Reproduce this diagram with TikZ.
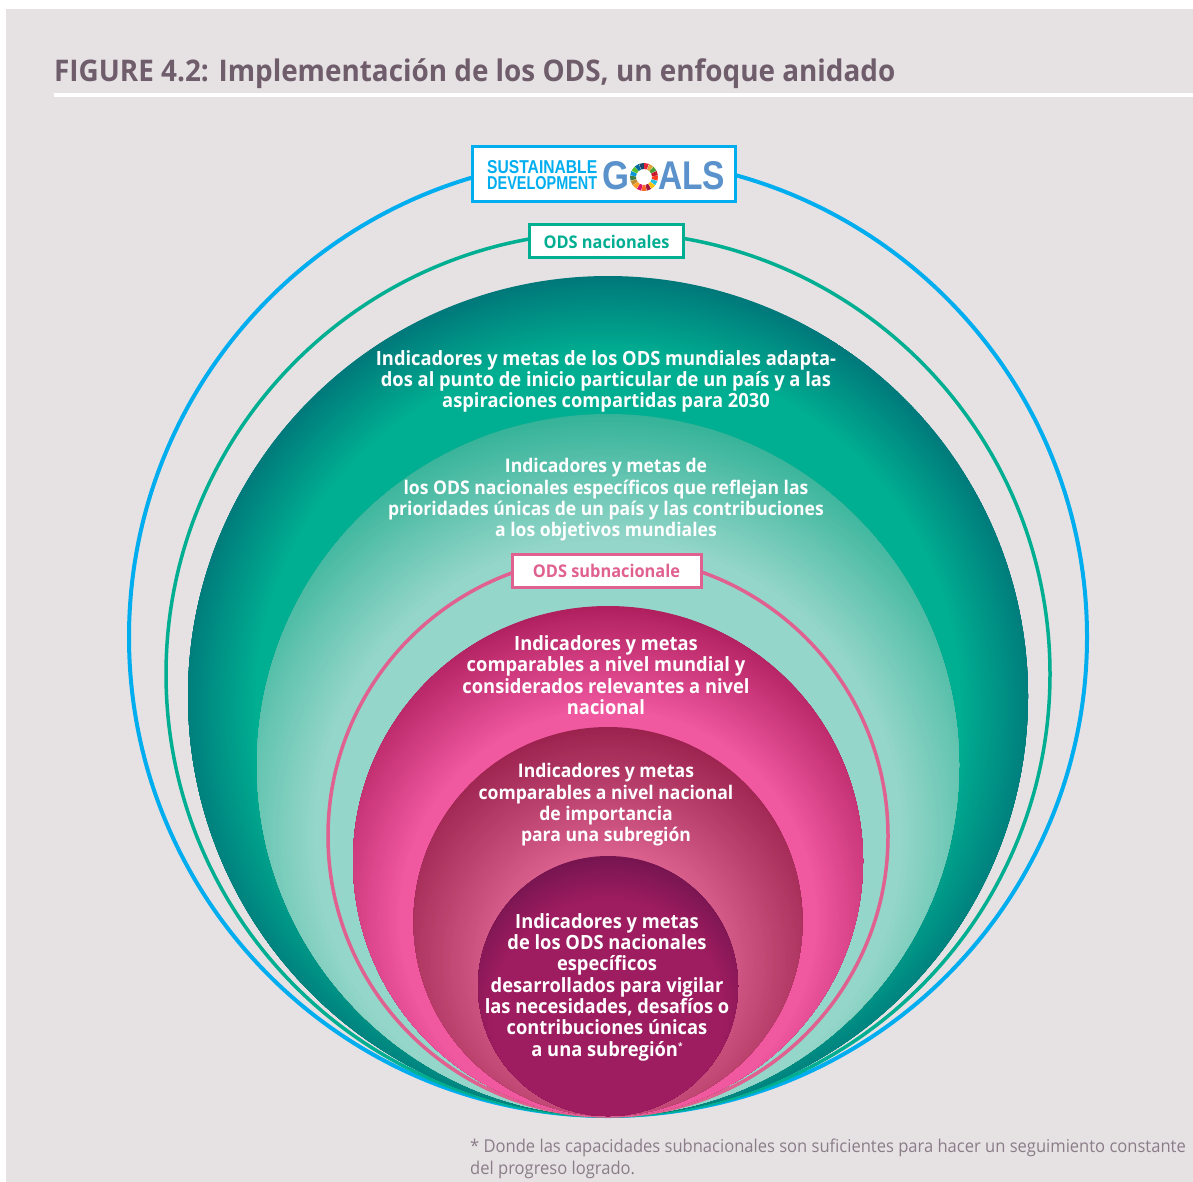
\documentclass[tikz,border=0pt]{standalone}
\usepackage{fontspec}
\usetikzlibrary{calc}
\setmainfont{Open Sans}[FakeStretch=0.935]
\newfontfamily\logofont{Liberation Sans}
\definecolor{pagebg}{HTML}{E6E2E4}
\definecolor{titlecol}{HTML}{6F5D6B}
\definecolor{notecol}{HTML}{8B7D88}
\definecolor{skyblue}{HTML}{00AEEF}
\definecolor{goalblue}{HTML}{5B92CB}
\definecolor{tealc}{HTML}{00AE91}
\definecolor{pinkc}{HTML}{E0608F}
\definecolor{tealedge}{HTML}{00787A}
\definecolor{lightedge}{HTML}{35B399}
\definecolor{lightmid}{HTML}{94D6C9}
\definecolor{pinkedge}{HTML}{B0205F}
\definecolor{pinkmid}{HTML}{F058A0}
\definecolor{midedge}{HTML}{9C234E}
\definecolor{midmid}{HTML}{D95F8C}
\definecolor{inneredge}{HTML}{761550}
\definecolor{innermid}{HTML}{9E1C60}
% centre x, centre y, radius, downward shift of the gradient's centre, radius of its flat core, edge colour, core colour
\newcommand\gradisc[7]{%
  \begin{scope}
    \clip (#1,#2) circle[radius=#3];
    \fill[#6] (#1,#2) circle[radius=#3];
    \foreach \k in {1,...,50}{%
      \pgfmathsetmacro\rr{(#3+#4)-(#3+#4-#5)*\k/50}%
      \pgfmathtruncatemacro\mx{2*\k}%
      \fill[#7!\mx!#6] (#1,#2+#4) circle[radius=\rr];
    }%
  \end{scope}
}
\tikzset{
  x=1pt,y=-1pt,
  disctext/.style={text=white,font=\fontsize{19.6}{21.35}\selectfont\bfseries,align=center,inner sep=0pt},
  disctextsmall/.style={text=white,font=\fontsize{18.8}{21.35}\selectfont\bfseries,align=center,inner sep=0pt},
  tagbox/.style={fill=white,line width=3pt,inner sep=0pt,minimum height=33pt,font=\fontsize{17.5}{20}\selectfont\bfseries},
  logotext/.style={anchor=base west,inner sep=0pt,font=\logofont\bfseries},
}
\begin{document}
\begin{tikzpicture}
\useasboundingbox (0,0) rectangle (1193,1182);
\fill[pagebg] (6,9) rectangle (1193,1182);
\node[anchor=base west,inner sep=0pt,text=titlecol,font=\fontsize{29.8}{34}\selectfont\bfseries] (title) at (54,81.5) {FIGURE 4.2: Implementación de los ODS, un enfoque anidado};
\fill[white] (54,93.5) rectangle (1193,97);
% rings and discs
\draw[skyblue,line width=4pt] (608,637) circle[radius=479];
\draw[tealc,line width=3.5pt] (608,674) circle[radius=442];
\gradisc{608}{696}{420}{10}{353}{tealedge}{tealc}
\gradisc{608}{765}{351}{70}{295}{lightedge}{lightmid}
\draw[pinkc,line width=3.5pt] (608,836) circle[radius=280];
\gradisc{608}{861}{255}{57}{208}{pinkedge}{pinkmid}
\gradisc{608}{921.5}{194.5}{40}{110}{midedge}{midmid}
\gradisc{608}{986}{130}{30}{116}{inneredge}{innermid}
% logo
\node[draw=skyblue,fill=white,line width=3.5pt,minimum width=263pt,minimum height=55pt,inner sep=0pt] (logo) at (604,174) {};
\node[logotext,text=skyblue] (sus) at (487,174) {\resizebox{110pt}{13pt}{SUSTAINABLE}};
\node[logotext,text=skyblue] (dev) at (487,190) {\resizebox{110pt}{13pt}{DEVELOPMENT}};
\node[logotext,text=goalblue] (goalg) at (602,190) {\resizebox{27pt}{28pt}{G}};
\node[logotext,text=goalblue] (goalals) at (658,190) {\resizebox{67pt}{28pt}{ALS}};
\coordinate (wheel) at (644,177);
\foreach \c [count=\i from 0] in {E5243B,DDA63A,4C9F38,C5192D,FF3A21,26BDE2,FCC30B,A21942,FD6925,DD1367,FD9D24,BF8B2E,3F7E44,0A97D9,56C02B,00689D,19486A}{
  \definecolor{wheelc}{HTML}{\c}
  \pgfmathsetmacro\aa{-90+\i*360/17+1}
  \pgfmathsetmacro\ab{-90+(\i+1)*360/17-1}
  \fill[wheelc] ($(wheel)+(\aa:8)$) -- ($(wheel)+(\aa:14)$) -- ($(wheel)+(\ab:14)$) -- ($(wheel)+(\ab:8)$) -- cycle;
}
% tags
\node[tagbox,draw=tealc,text=tealc,minimum width=154pt] (tagnat) at (606.5,241.5) {ODS nacionales};
\node[tagbox,draw=pinkc,text=pinkc,minimum width=189pt] (tagsub) at (606.5,571) {ODS subnacionale};
% texts
\node[disctext] (t1) at (606,381.5) {Indicadores y metas de los ODS mundiales adapta-\\dos al punto de inicio particular de un país y a las\\aspiraciones compartidas para 2030};
\node[disctextsmall] (t2) at (606,500) {Indicadores y metas de\\los ODS nacionales específicos que reflejan las\\prioridades únicas de un país y las contribuciones\\a los objetivos mundiales};
\node[disctext] (t3) at (606,675) {Indicadores y metas\\comparables a nivel mundial y\\considerados relevantes a nivel\\nacional};
\node[disctextsmall] (t4) at (606,805) {Indicadores y metas\\comparables a nivel nacional\\de importancia\\para una subregión};
\node[disctext] (t5) at (607,987) {Indicadores y metas\\de los ODS nacionales\\específicos\\desarrollados para vigilar\\las necesidades, desafíos o\\contribuciones únicas\\a una subregión\raisebox{7pt}{\fontsize{9}{9}\selectfont *}};
% note
\node[anchor=base west,inner sep=0pt,text=notecol,align=left,font=\fontsize{17.7}{22}\selectfont] (note) at (470,1174) {* Donde las capacidades subnacionales son suficientes para hacer un seguimiento constante\\del progreso logrado.};
\end{tikzpicture}
\end{document}
